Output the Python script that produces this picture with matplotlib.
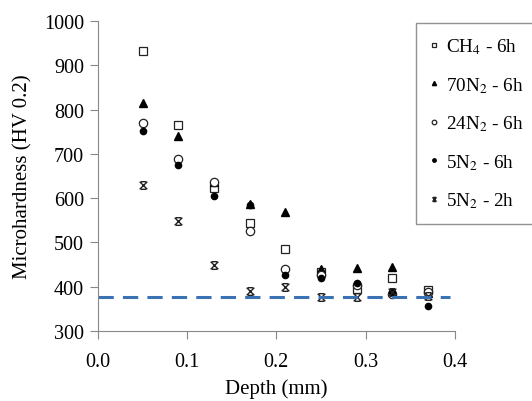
import numpy as np
import matplotlib
matplotlib.use("Agg")
import matplotlib.pyplot as plt
from matplotlib.path import Path

plt.rcParams['font.family'] = ['Liberation Serif', 'DejaVu Serif']
plt.rcParams['mathtext.fontset'] = 'stix'

depth = [0.05, 0.09, 0.13, 0.17, 0.21, 0.25, 0.29, 0.33, 0.37]
ch4_6h = [933, 765, 623, 545, 485, 433, 396, 420, 393]
n70_6h = [815, 740, 637, 588, 568, 440, 443, 444, 386]
n24_6h = [771, 688, 637, 526, 440, 426, 404, 383, 389]
n5_6h = [752, 675, 605, 585, 426, 420, 408, 388, 357]
n5_2h = [630, 548, 450, 391, 399, 378, 376, 388, 380]
baseline = 376

# x with caps, like the star used in the original
capped_x = Path([(-1, -1), (1, 1), (-1, 1), (1, -1),
                 (-0.7, 1), (0.7, 1), (-0.7, -1), (0.7, -1)],
                [Path.MOVETO, Path.LINETO, Path.MOVETO, Path.LINETO,
                 Path.MOVETO, Path.LINETO, Path.MOVETO, Path.LINETO])

fig = plt.figure(figsize=(5.32, 4.02), dpi=100)
ax = fig.add_axes([0.184, 0.174, 0.671, 0.771])

ax.plot(depth, ch4_6h, 's', mfc='white', mec='#222222', ms=6, mew=0.9, label='CH$_4$ - 6h', ls='none')
ax.plot(depth, n70_6h, '^', color='black', ms=5.5, label='70N$_2$ - 6h', ls='none')
ax.plot(depth, n24_6h, 'o', mfc='white', mec='#222222', ms=6, mew=0.9, label='24N$_2$ - 6h', ls='none')
ax.plot(depth, n5_6h, 'o', color='black', ms=4.5, label='5N$_2$ - 6h', ls='none')
ax.plot(depth, n5_2h, marker=capped_x, mfc='none', mec='#222222', ms=5.5, mew=1.0,
        label='5N$_2$ - 2h', ls='none')
ax.plot([0, 0.395], [baseline, baseline], '--', color='#3b72b4', lw=2.2, dashes=(5, 3))

ax.set_xlim(0, 0.4)
ax.set_ylim(300, 1000)
ax.set_xticks(np.arange(0, 0.41, 0.1))
ax.set_xticklabels(['0.0', '0.1', '0.2', '0.3', '0.4'])
ax.set_yticks(range(300, 1001, 100))
for s in ['top', 'right']:
    ax.spines[s].set_visible(False)
for s in ['left', 'bottom']:
    ax.spines[s].set_color('#888888')
ax.tick_params(colors='#888888', labelcolor='black', labelsize=14.5, length=6, pad=4)
ax.tick_params(axis='x', pad=9)
ax.set_xlabel('Depth (mm)', fontsize=15, labelpad=5)
ax.set_ylabel('Microhardness (HV 0.2)', fontsize=15, labelpad=8)

leg = fig.legend(loc='upper left', bbox_to_anchor=(0.782, 0.94), fontsize=13.8,
                 markerscale=0.55, handlelength=0.5, handletextpad=0.35,
                 labelspacing=0.98, fancybox=False, edgecolor='#777777',
                 borderpad=0.7, borderaxespad=0)
leg.get_frame().set_linewidth(1.0)

fig.savefig('out.png', dpi=100)
